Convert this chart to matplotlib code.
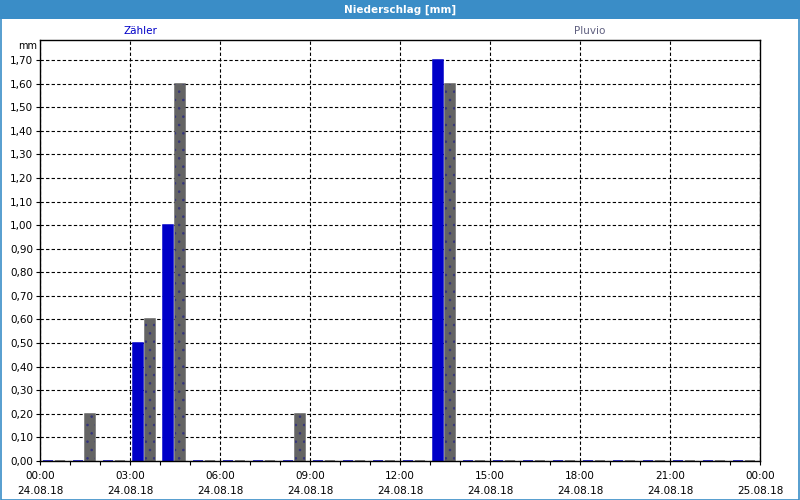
#Niederschlag (Zaehler / Pluvio) hourly bars for 24.08.18
import matplotlib
matplotlib.use("Agg")
import matplotlib.pyplot as plt
from matplotlib.patches import Rectangle
import numpy as np

#hour of day where each bar interval starts
hours = list(range(24))
zaehler = [0, 0, 0, 0.5, 1.0, 0, 0, 0, 0, 0, 0, 0, 0, 1.7,
           0, 0, 0, 0, 0, 0, 0, 0, 0, 0]
pluvio = [0, 0.2, 0, 0.6, 1.6, 0, 0, 0, 0.2, 0, 0, 0, 0, 1.6,
          0, 0, 0, 0, 0, 0, 0, 0, 0, 0]

tick_hours = [0, 3, 6, 9, 12, 15, 18, 21, 24]
tick_labels = ["00:00\n24.08.18", "03:00\n24.08.18", "06:00\n24.08.18",
               "09:00\n24.08.18", "12:00\n24.08.18", "15:00\n24.08.18",
               "18:00\n24.08.18", "21:00\n24.08.18", "00:00\n25.08.18"]
y_ticks = [i / 10 for i in range(18)]

blue = "#0000c8"
grey = "#646464"
frame_blue = "#3a8dc7"

fig = plt.figure(figsize=(8, 5), dpi=100)
fig.patch.set_facecolor("white")

#title bar and outer frame
fig.patches.append(Rectangle((0, 1 - 19 / 500), 1, 19 / 500, transform=fig.transFigure,
                             facecolor=frame_blue, edgecolor="none", zorder=0))
fig.patches.append(Rectangle((0.5 / 800, 0.5 / 500), 1 - 1.5 / 800, 1 - 1.5 / 500,
                             transform=fig.transFigure, facecolor="none",
                             edgecolor=frame_blue, linewidth=1.2, zorder=5))
fig.text(0.5, 1 - 10 / 500, "Niederschlag [mm]", color="white", fontsize=7.5,
         fontweight="bold", ha="center", va="center")

ax = fig.add_axes([40 / 800, 1 - 461 / 500, 720 / 800, 421 / 500])

x = np.array(hours)
w = 0.34
#zero values still show as a thin stub, like the original
ax.bar(x + 0.085, zaehler, width=w, align="edge", color=blue,
       edgecolor=blue, linewidth=1.1, zorder=3, clip_on=False)
ax.bar(x + 0.485, pluvio, width=w, align="edge", color=grey,
       edgecolor=grey, linewidth=1.1, zorder=3, clip_on=False)
#stippled pattern on the Pluvio bars
plt.rcParams["hatch.linewidth"] = 0.6
ax.bar(x + 0.485, pluvio, width=w, align="edge", fill=False, hatch="..",
       edgecolor="#34347a", linewidth=0, zorder=4)

ax.set_xlim(0, 24)
ax.set_ylim(0, 1.785)
ax.set_xticks(tick_hours)
ax.set_xticklabels(tick_labels)
ax.set_xticks(hours, minor=True)
ax.set_yticks(y_ticks)
ax.set_yticklabels([f"{v:.2f}".replace(".", ",") for v in y_ticks])

ax.tick_params(axis="both", which="both", direction="out", length=3,
               width=0.8, labelsize=7.5, pad=2, colors="black")
ax.tick_params(axis="x", pad=4)
for lbl in ax.get_xticklabels():
    lbl.set_linespacing(1.6)

ax.grid(True, which="major", color="black", linestyle=(0, (3, 2)),
        linewidth=0.8, zorder=1)
ax.set_axisbelow(True)
for s in ax.spines.values():
    s.set_color("black")
    s.set_linewidth(1.0)
    s.set_zorder(5)

fig.text(140 / 800, 1 - 31 / 500, "Zähler", color=blue, fontsize=7.5,
         ha="center", va="center")
fig.text(590 / 800, 1 - 31 / 500, "Pluvio", color="#606080", fontsize=7.5,
         ha="center", va="center")
fig.text(28 / 800, 1 - 46 / 500, "mm", color="black", fontsize=7,
         ha="center", va="center")

fig.savefig("out.png", dpi=100)
